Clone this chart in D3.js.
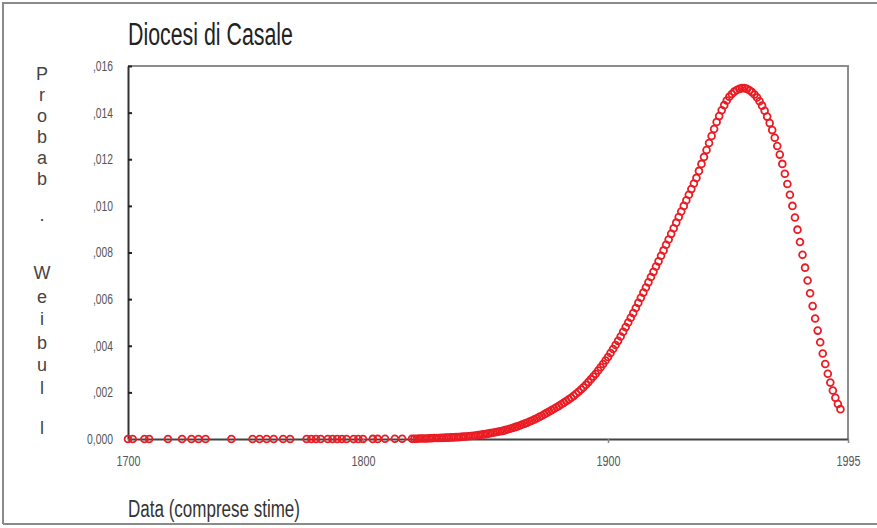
<!DOCTYPE html>
<html><head><meta charset="utf-8">
<script src="https://cdn.jsdelivr.net/npm/d3@7"></script>
<style>
html,body{margin:0;padding:0;background:#fff;}
svg{display:block;}
.narrow{font-family:"Liberation Sans Narrow","Arial Narrow","Liberation Sans",sans-serif;}
</style></head>
<body>
<script>
// ---- data ----
const title = "Diocesi di Casale";
const xTitle = "Data (comprese stime)";
const yTitleChars = ["P","r","o","b","a","b",".","W","e","i","b","u","l","l"];
const xTicks = [1700, 1800, 1900, 1995];
const yTicks = [0, 0.002, 0.004, 0.006, 0.008, 0.010, 0.012, 0.014, 0.016];
const yTickLabels = ["0,000", ",002", ",004", ",006", ",008", ",010", ",012", ",014", ",016"];

// sparse early observations (probability ~ 0)
const earlyYears = [1700,1702,1707,1709,1717,1723,1727,1730,1733,1744,1753,1756,1759,1762,1766,1769,
  1776,1778,1780,1782,1785,1787,1789,1791,1793,1796,1798,1800,1804,1806,1809,1813,1816];
const earlyValues = [0,0,0,0,0,0,0,0,0,0,0,0,0,0,0,0,0,0,0,0,0,0,0,0,0,0,0,0,0.000005,0.000005,0.000008,0.00001,0.00001];

// yearly observations 1820..1992
const years = [];
for (let y = 1820; y <= 1992; y++) years.push(y);
const values = [
0.00001,0.00001,0.00001,0.00002,0.00002,0.00002,0.00002,0.00003,0.00003,0.00004, // 1820-29
0.00004,0.00004,0.00005,0.00005,0.00006,0.00006,0.00007,0.00007,0.00008,0.00008, // 1830-39
0.00009,0.00010,0.00011,0.00012,0.00013,0.00014,0.00015,0.00017,0.00018,0.00020, // 1840-49
0.00021,0.00023,0.00025,0.00027,0.00029,0.00031,0.00033,0.00035,0.00038,0.00041, // 1850-59
0.00044,0.00047,0.00051,0.00054,0.00058,0.00062,0.00066,0.00070,0.00075,0.00079, // 1860-69
0.00084,0.00089,0.00095,0.00100,0.00106,0.00112,0.00118,0.00124,0.00130,0.00136, // 1870-79
0.00142,0.00149,0.00156,0.00163,0.00170,0.00177,0.00185,0.00194,0.00203,0.00212, // 1880-89
0.00222,0.00233,0.00244,0.00256,0.00268,0.00280,0.00294,0.00308,0.00322,0.00337, // 1890-99
0.00352,0.00369,0.00386,0.00403,0.00421,0.00440,0.00460,0.00480,0.00500,0.00520, // 1900-09
0.00540,0.00562,0.00584,0.00606,0.00628,0.00650,0.00672,0.00695,0.00717,0.00740, // 1910-19
0.00762,0.00786,0.00809,0.00833,0.00856,0.00880,0.00904,0.00928,0.00952,0.00976, // 1920-29
0.01000,0.01024,0.01048,0.01072,0.01096,0.01120,0.01150,0.01180,0.01210,0.01240, // 1930-39
0.01270,0.01300,0.01330,0.01360,0.01385,0.01410,0.01432,0.01452,0.01468,0.01480, // 1940-49
0.01490,0.01497,0.01502,0.01505,0.01505,0.01502,0.01496,0.01488,0.01478,0.01465, // 1950-59
0.01449,0.01430,0.01408,0.01383,0.01355,0.01325,0.01292,0.01257,0.01220,0.01180, // 1960-69
0.01138,0.01094,0.01048,0.01000,0.00950,0.00898,0.00845,0.00790,0.00735,0.00680, // 1970-79
0.00625,0.00570,0.00517,0.00465,0.00415,0.00367,0.00322,0.00280,0.00242,0.00208, // 1980-89
0.00177,0.00150,0.00128                                                             // 1990-92
];

const points = earlyYears.map((y,i)=>({x:y, v:earlyValues[i]}))
  .concat(years.map((y,i)=>({x:y, v:values[i]})));

// ---- layout ----
const W = 877, H = 528;
const L = 128, R = 848, T = 66, B = 439;

const svg = d3.select("body").append("svg").attr("width", W).attr("height", H);

// outer frame
svg.append("path").attr("d", `M3,524 L3,3 L877,3 M3,524 L877,524`)
  .attr("fill","none").attr("stroke","#8a8a8a").attr("stroke-width",2);

const x = d3.scaleLinear().domain(xTicks).range([L, 363, 608, R]);
const y = d3.scaleLinear().domain([0, 0.016]).range([B, T]);

// plot box (top/right gray)
svg.append("path").attr("d", `M${L},${T} L${R},${T} L${R},${B}`)
  .attr("fill","none").attr("stroke","#8c8c8c").attr("stroke-width",2);

// y axis
const yAxis = d3.axisLeft(y).tickValues(yTicks).tickSizeInner(-4).tickSizeOuter(0)
  .tickPadding(15).tickFormat((d,i)=>yTickLabels[i]);
const gy = svg.append("g").attr("transform",`translate(${L},0)`).call(yAxis);
gy.select(".domain").attr("stroke","#333").attr("stroke-width",2);
gy.selectAll(".tick line").attr("stroke","#222").attr("stroke-width",2);
gy.selectAll(".tick text").attr("class","narrow").attr("font-size",14).attr("fill","#555")
  .attr("textLength", (d,i)=> yTickLabels[i].length === 5 ? 26 : 20)
  .attr("lengthAdjust","spacingAndGlyphs");

// x axis
const xAxis = d3.axisBottom(x).tickValues(xTicks).tickSizeInner(4).tickSizeOuter(0)
  .tickPadding(13).tickFormat(d3.format("d"));
const gx = svg.append("g").attr("transform",`translate(0,${B})`).call(xAxis);
gx.select(".domain").attr("stroke","#444").attr("stroke-width",2);
gx.selectAll(".tick line").attr("stroke","#888").attr("stroke-width",1.5);
gx.selectAll(".tick text").attr("class","narrow").attr("font-size",14).attr("fill","#555")
  .attr("textLength", 24).attr("lengthAdjust","spacingAndGlyphs");

// points
svg.append("g").selectAll("circle").data(points).join("circle")
  .attr("cx", d=>x(d.x)).attr("cy", d=>y(d.v)).attr("r", 3.4)
  .attr("fill","none").attr("stroke","#ea1c24").attr("stroke-width",1.8);

// title
svg.append("text").attr("class","narrow").attr("x", L).attr("y", 45)
  .attr("font-size", 31).attr("fill","#222")
  .attr("textLength", 165).attr("lengthAdjust","spacingAndGlyphs").text(title);

// x title
svg.append("text").attr("class","narrow").attr("x", L).attr("y", 517)
  .attr("font-size", 23).attr("fill","#333")
  .attr("textLength", 172).attr("lengthAdjust","spacingAndGlyphs").text(xTitle);

// y title (stacked letters)
const yPos = [80,101,122,143,164,185,221,279,303,325,349,371,394,434];
svg.append("g").selectAll("text").data(yTitleChars).join("text")
  .attr("class","narrow").attr("x", 42).attr("y", (d,i)=>yPos[i])
  .attr("text-anchor","middle").attr("font-size", 18).attr("fill","#444")
  .text(d=>d);
</script>
</body></html>
